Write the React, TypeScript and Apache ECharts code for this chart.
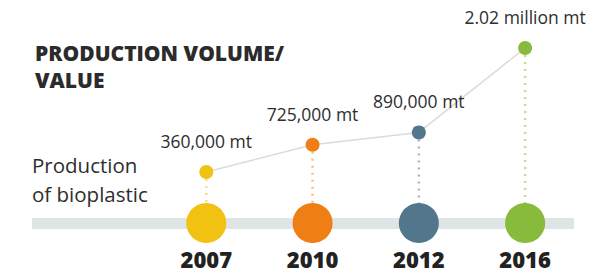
import React, { useEffect, useRef } from "react";
import * as echarts from "echarts";

const years = ["2007", "2010", "2012", "2016"];
const volumesKt = [360, 725, 890, 2020];
const volumeLabels = ["360,000 mt", "725,000 mt", "890,000 mt", "2.02 million mt"];
const yearColors = ["#f2c212", "#ef7f14", "#52768c", "#88ba3c"];
const titleLines = ["PRODUCTION VOLUME/", "VALUE"];
const subjectLines = ["Production", "of bioplastic"];

const BASELINE = -322;
const FONT = "'Open Sans', 'Noto Sans', sans-serif";

export default function App() {
  const ref = useRef<HTMLDivElement>(null);
  useEffect(() => {
    document.body.style.margin = "0";
    const chart = echarts.init(ref.current!, null, { renderer: "svg" });
    const idx = years.map((_, i) => i);
    const dropLines = idx.map((i) => ({
      type: "line",
      data: [
        [i, volumesKt[i]],
        [i, BASELINE],
      ],
      showSymbol: false,
      silent: true,
      z: 1,
      lineStyle: { color: yearColors[i], width: 2.5, type: [2, 5], opacity: 0.5 },
    }));
    chart.setOption({
      animation: false,
      backgroundColor: "#ffffff",
      title: [
        {
          text: titleLines.join("\n"),
          left: 35,
          top: 39,
          padding: 0,
          textStyle: { fontFamily: FONT, fontSize: 21, fontWeight: 800, color: "#2b2b2b", lineHeight: 27 },
        },
        {
          text: subjectLines.join("\n"),
          left: 32,
          top: 150,
          padding: 0,
          textStyle: { fontFamily: FONT, fontSize: 20.5, fontWeight: 400, color: "#2e2e2e", lineHeight: 29 },
        },
      ],
      grid: { left: 32, right: 34, top: 48, bottom: 50 },
      xAxis: {
        type: "value",
        min: -1.64,
        max: 3.46,
        splitLine: { show: false },
        axisTick: { show: false },
        axisLabel: { show: false },
        axisLine: { show: true, onZero: false, lineStyle: { color: "#dfe4e4", width: 11, cap: "butt" } },
      },
      yAxis: {
        type: "value",
        min: BASELINE,
        max: 2020,
        show: false,
        splitLine: { show: false },
      },
      series: [
        ...dropLines,
        {
          type: "line",
          data: idx.map((i) => [i, volumesKt[i]]),
          showSymbol: false,
          z: 2,
          lineStyle: { color: "#d9dcdc", width: 1.5 },
        },
        {
          type: "scatter",
          data: idx.map((i) => [i, volumesKt[i]]),
          symbolSize: 14,
          z: 3,
          itemStyle: { color: (p: any) => yearColors[p.dataIndex], opacity: 1 },
          label: {
            show: true,
            position: "top",
            distance: 15,
            formatter: (p: any) => volumeLabels[p.dataIndex],
            fontFamily: FONT,
            fontSize: 17.5,
            color: "#2e2e2e",
          },
        },
        {
          type: "scatter",
          data: idx.map((i) => [i, BASELINE]),
          symbolSize: 40,
          z: 4,
          itemStyle: { color: (p: any) => yearColors[p.dataIndex], opacity: 1 },
          label: {
            show: true,
            position: "bottom",
            distance: 6,
            lineHeight: 20,
            formatter: (p: any) => years[p.dataIndex],
            fontFamily: FONT,
            fontSize: 22,
            fontWeight: 800,
            color: "#222222",
          },
        },
      ],
    });
    return () => chart.dispose();
  }, []);
  return <div ref={ref} style={{ width: 608, height: 273 }} />;
}
